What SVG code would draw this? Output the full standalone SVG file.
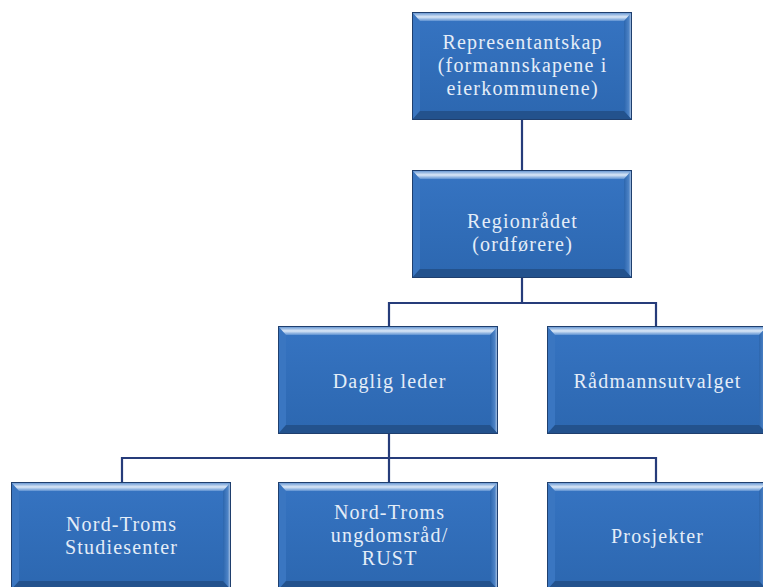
<svg xmlns="http://www.w3.org/2000/svg" xmlns:xlink="http://www.w3.org/1999/xlink" width="763" height="587" viewBox="0 0 763 587">
  <style>
    .conn { fill: none; stroke: #263c7a; stroke-width: 2.2; }
    .t { font-family: "Liberation Serif", "Times New Roman", serif; font-size: 20px; letter-spacing: 1.2px; fill: #e4edf8; text-anchor: middle; }
  </style>
  <defs>
    <linearGradient id="bodyGrad" x1="0" y1="0" x2="0" y2="1">
      <stop offset="0" stop-color="#3674c2"/>
      <stop offset="1" stop-color="#2c67b0"/>
    </linearGradient>
    <linearGradient id="topBevel" x1="0" y1="0" x2="0" y2="1">
      <stop offset="0" stop-color="#4f86cc"/>
      <stop offset="0.55" stop-color="#dbe8f7"/>
      <stop offset="1" stop-color="#5c90d1"/>
    </linearGradient>
    <linearGradient id="rightBevel" x1="0" y1="0" x2="1" y2="0">
      <stop offset="0" stop-color="#2c66ae"/>
      <stop offset="0.6" stop-color="#4d83c6"/>
      <stop offset="1" stop-color="#c9d9ee"/>
    </linearGradient>
    <g id="box">
      <rect x="0" y="0" width="220" height="108" fill="url(#bodyGrad)"/>
      <polygon points="0,0 8,9 8,99 0,108" fill="#3a76c1"/>
      <polygon points="220,0 220,108 212,99 212,9" fill="url(#rightBevel)"/>
      <polygon points="0,108 8,99 212,99 220,108" fill="#23528d"/>
      <polygon points="0,0 220,0 212,9 8,9" fill="url(#topBevel)"/>
      <rect x="0.5" y="0.5" width="219" height="107" fill="none" stroke="#1f3f6e" stroke-width="1"/>
    </g>
  </defs>
  <rect width="763" height="587" fill="#ffffff"/>

  <g id="connectors">
    <line class="conn" x1="522" y1="120" x2="522" y2="170"/>
    <polyline class="conn" points="522,278 522,303"/>
    <polyline class="conn" points="389,326 389,303 656,303 656,326"/>
    <line class="conn" x1="389" y1="434" x2="389" y2="482"/>
    <polyline class="conn" points="122,482 122,458 656,458 656,482"/>
  </g>

  <g id="representantskap">
    <use xlink:href="#box" href="#box" x="412" y="12"/>
    <text class="t" x="522.6" y="49">Representantskap</text>
    <text class="t" x="522.6" y="72">(formannskapene i</text>
    <text class="t" x="522.6" y="95">eierkommunene)</text>
  </g>

  <g id="regionraadet">
    <use xlink:href="#box" href="#box" x="412" y="170"/>
    <text class="t" x="522.6" y="228">Regionrådet</text>
    <text class="t" x="522.6" y="251">(ordførere)</text>
  </g>

  <g id="daglig-leder">
    <use xlink:href="#box" href="#box" x="278" y="326"/>
    <text class="t" x="389.6" y="388">Daglig leder</text>
  </g>

  <g id="raadmannsutvalget">
    <use xlink:href="#box" href="#box" x="547" y="326"/>
    <text class="t" x="657.6" y="388">Rådmannsutvalget</text>
  </g>

  <g id="studiesenter">
    <use xlink:href="#box" href="#box" x="11" y="482"/>
    <text class="t" x="121.6" y="531">Nord-Troms</text>
    <text class="t" x="121.6" y="554">Studiesenter</text>
  </g>

  <g id="ungdomsraad">
    <use xlink:href="#box" href="#box" x="278" y="482"/>
    <text class="t" x="389.6" y="519">Nord-Troms</text>
    <text class="t" x="389.6" y="542">ungdomsråd/</text>
    <text class="t" x="389.6" y="565">RUST</text>
  </g>

  <g id="prosjekter">
    <use xlink:href="#box" href="#box" x="547" y="482"/>
    <text class="t" x="657.6" y="543">Prosjekter</text>
  </g>
</svg>
